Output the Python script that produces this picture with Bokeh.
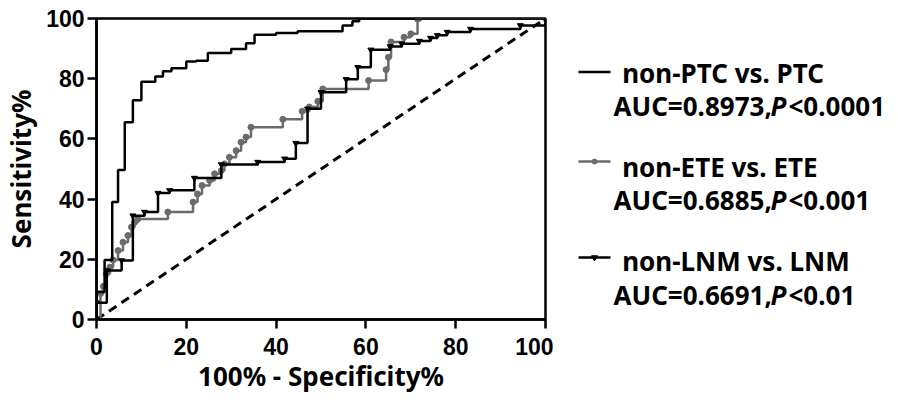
from bokeh.plotting import figure
from bokeh.models import Range1d, FixedTicker
from bokeh.layouts import row
from bokeh.core.properties import value
from bokeh.embed import file_html
from bokeh.resources import INLINE

# ---- data (100% - specificity %, sensitivity %) ROC corner points ----
ptc_fpr = [0, 0, 1.8, 3.5, 4.8, 6.3, 8.1, 10, 13.1, 14.8, 16.7, 20, 22.2, 24.8, 30, 33.3, 35.2, 40, 44.8, 54.8, 57, 58.5, 100]
ptc_tpr = [0, 9.1, 19.8, 39, 49.7, 65.5, 72.8, 79, 80.7, 82.5, 83.5, 85.7, 86, 88.5, 89.9, 91.8, 94.6, 95.2, 95.8, 97.7, 99.1, 100, 100]

ete_fpr = [0, 0.9, 1.5, 2.2, 3.0, 3.7, 4.8, 5.9, 7.0, 7.8, 8.5, 9.2, 15.9, 21.5, 22.5, 23.5, 25.2, 26.3, 27.8, 28.5, 29.6, 31.1, 32.2, 33.3, 34.4, 41.5, 45.8, 47.4, 49.3, 50.4, 60.6, 64.5, 65.0, 65.6, 68.5, 70.0, 71.5, 71.8, 100]
ete_tpr = [0, 8.6, 11.0, 15.2, 17.4, 19.8, 22.9, 25.7, 27.9, 30.7, 32.3, 33.4, 35.7, 39.0, 41.7, 44.5, 46.2, 48.4, 49.5, 51.7, 53.9, 56.1, 58.9, 60.6, 63.9, 66.5, 69.2, 70.6, 72.5, 76.6, 79.4, 83.0, 87.1, 92.2, 93.8, 94.9, 99.8, 100, 100]

lnm_fpr = [0, 0, 2.3, 5.6, 8.1, 10.7, 13.7, 16.3, 21.8, 27.8, 35.9, 41.9, 44.4, 47.0, 50.0, 55.6, 58.2, 61.1, 65.4, 68.0, 71.9, 74.4, 75.9, 78.1, 83.3, 94.4, 100]
lnm_tpr = [0, 5.6, 16.3, 19.6, 34.5, 35.7, 42.0, 42.9, 47.0, 51.5, 52.3, 53.4, 58.6, 70.0, 75.5, 79.8, 83.8, 89.6, 90.7, 91.6, 92.5, 93.5, 94.4, 95.5, 96.5, 97.7, 100]

chance = [0, 100]
ticks = [0, 20, 40, 60, 80, 100]

legend_names = ["non-PTC vs. PTC", "non-ETE vs. ETE", "non-LNM vs. LNM"]
auc_texts = ["AUC=0.8973,", "AUC=0.6885,", "AUC=0.6691,"]
p_texts = ["<0.0001", "<0.001", "<0.01"]

GRAY = "#6b6b6b"
TITLE_FONT = "Noto Sans"
TICK_FONT = "Liberation Sans"

H = 400
FRAME_TOP, FRAME_BOTTOM = 18, 319

p = figure(width=553, height=H, x_range=Range1d(0, 100), y_range=Range1d(0, 100),
           output_backend="svg", toolbar_location=None,
           min_border_left=95, min_border_right=8, min_border_top=FRAME_TOP,
           min_border_bottom=H - FRAME_BOTTOM)
p.xgrid.visible = False
p.ygrid.visible = False
p.outline_line_color = "black"
p.outline_line_width = 2.5
p.outline_line_alpha = 1.0
p.background_fill_color = "white"
p.border_fill_color = "white"

for ax in (p.xaxis[0], p.yaxis[0]):
    ax.ticker = FixedTicker(ticks=ticks)
    ax.minor_tick_line_color = None
    ax.major_tick_out = 9
    ax.major_tick_in = 0
    ax.major_tick_line_width = 2.5
    ax.axis_line_width = 2.5
    ax.major_tick_line_color = "black"
    ax.axis_line_color = "black"
    ax.major_label_text_font = TICK_FONT
    ax.major_label_text_font_style = "bold"
    ax.major_label_text_font_size = "23px"
    ax.major_label_text_color = "black"
    ax.axis_label_text_font = TITLE_FONT
    ax.axis_label_text_font_style = "bold"
    ax.axis_label_text_font_size = "26px"
    ax.axis_label_text_color = "black"

p.xaxis.axis_label = "100% - Specificity%"
p.yaxis.axis_label = "Sensitivity%"
p.xaxis.major_label_standoff = 9
p.yaxis.major_label_standoff = 3
p.xaxis.axis_label_standoff = 0
p.yaxis.axis_label_standoff = 4

p.line(chance, chance, line_dash="9 6", line_width=3, color="black")
p.step(ete_fpr, ete_tpr, mode="after", line_width=2.5, color=GRAY)
p.scatter(ete_fpr, ete_tpr, marker="circle", size=6, color=GRAY)
p.step(lnm_fpr, lnm_tpr, mode="after", line_width=2.5, color="black")
p.scatter(lnm_fpr, lnm_tpr, marker="inverted_triangle", size=6, color="black")
p.step(ptc_fpr, ptc_tpr, mode="after", line_width=2.5, color="black")

# ---- legend panel (its frame is aligned with the plot frame by the row layout) ----
q = figure(width=337, height=H, x_range=Range1d(0, 337),
           y_range=Range1d(FRAME_BOTTOM, FRAME_TOP),
           output_backend="svg", toolbar_location=None,
           min_border_left=0, min_border_right=0, min_border_top=FRAME_TOP,
           min_border_bottom=H - FRAME_BOTTOM,
           x_axis_type=None, y_axis_type=None, outline_line_color=None)
q.xgrid.visible = False
q.ygrid.visible = False

sample_y = [71.5, 161, 257]
name_y = [72, 166, 260]
auc_y = [105, 199, 294]
sample_x0, sample_x1 = 25, 57
name_x, auc_x = 68.7, 60

q.line([sample_x0, sample_x1], [sample_y[0]] * 2, line_width=2.5, color="black")
q.line([sample_x0, sample_x1], [sample_y[1]] * 2, line_width=2.5, color=GRAY)
q.scatter([(sample_x0 + sample_x1) / 2], [sample_y[1]], marker="circle", size=5, color=GRAY)
q.line([sample_x0, sample_x1], [sample_y[2]] * 2, line_width=2.5, color="black")
q.scatter([(sample_x0 + sample_x1) / 2], [sample_y[2]], marker="inverted_triangle", size=6, color="black")

common = dict(text_font=value(TITLE_FONT), text_font_style="bold", text_font_size="26px",
              text_baseline="alphabetic", text_align="left", text_color="black")
q.text(x=[name_x] * 3, y=name_y, text=legend_names, **common)
q.text(x=[auc_x] * 3, y=auc_y, text=auc_texts, **common)
prefix_w = 157
q.text(x=[auc_x + prefix_w] * 3, y=auc_y, text=["P"] * 3,
       text_font=value(TITLE_FONT), text_font_style="bold italic", text_font_size="26px",
       text_baseline="alphabetic", text_align="left", text_color="black")
q.text(x=[auc_x + prefix_w + 18] * 3, y=auc_y, text=p_texts, **common)

layout = row(p, q)
open("out.html", "w").write(file_html(layout, INLINE))
